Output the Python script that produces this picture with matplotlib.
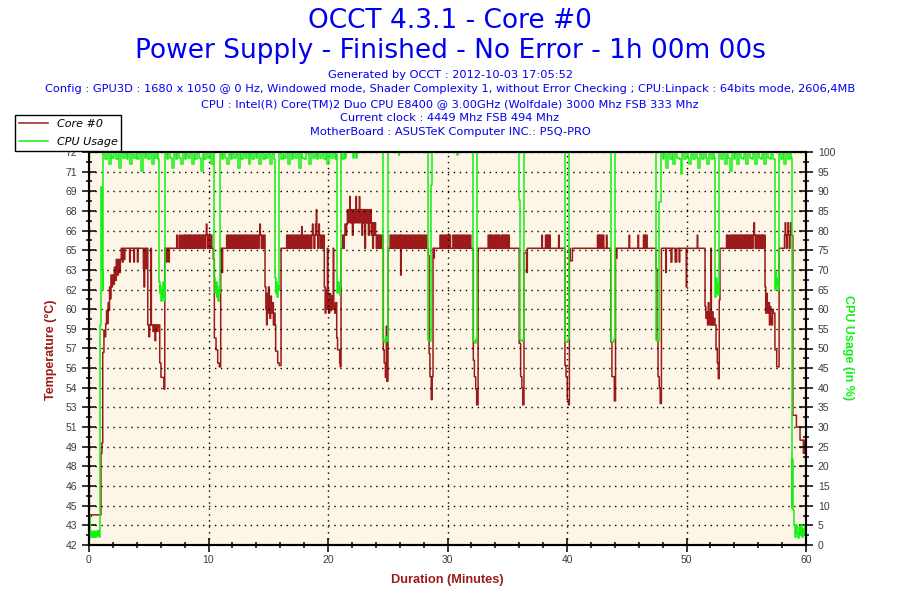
import numpy as np
import matplotlib
matplotlib.use('Agg')
import matplotlib.pyplot as plt
from matplotlib.lines import Line2D
from matplotlib.ticker import MultipleLocator, FixedLocator

title_main = 'OCCT 4.3.1 - Core #0'
title_sub = 'Power Supply - Finished - No Error - 1h 00m 00s'
info_lines = [
    'Generated by OCCT : 2012-10-03 17:05:52',
    'Config : GPU3D : 1680 x 1050 @ 0 Hz, Windowed mode, Shader Complexity 1, without Error Checking ; CPU:Linpack : 64bits mode, 2606,4MB',
    'CPU : Intel(R) Core(TM)2 Duo CPU E8400 @ 3.00GHz (Wolfdale) 3000 Mhz FSB 333 Mhz',
    'Current clock : 4449 Mhz FSB 494 Mhz',
    'MotherBoard : ASUSTeK Computer INC.: P5Q-PRO',
]

temp_tick_labels = ['42', '43', '45', '46', '48', '49', '51', '53', '54', '56', '57',
                    '59', '60', '62', '63', '65', '66', '68', '69', '71', '72']

# (minute, temperature)
temp_readings = [
    (0.00, 44.3), (1.00, 49.0), (1.08, 49.8), (1.15, 56.7), (1.25, 58.4), (1.32, 57.9),
    (1.40, 58.9), (1.47, 59.9), (1.53, 58.9), (1.60, 60.5), (1.66, 59.9), (1.72, 61.7),
    (1.78, 60.8), (1.84, 62.6), (1.90, 61.7), (1.96, 62.6), (2.05, 61.9), (2.12, 63.2),
    (2.20, 62.2), (2.28, 63.8), (2.36, 62.6), (2.45, 63.8), (2.55, 62.8), (2.62, 63.8),
    (2.70, 64.65), (2.78, 63.6), (2.86, 64.65), (2.92, 63.8), (3.00, 64.65), (3.40, 63.6),
    (3.45, 64.65), (3.75, 63.6), (3.80, 64.65), (4.05, 63.6), (4.10, 64.65), (4.55, 63.1),
    (4.60, 61.7), (4.66, 64.65), (4.78, 63.1), (4.85, 64.65), (4.92, 58.8), (5.00, 57.9),
    (5.08, 58.8), (5.18, 64.65), (5.22, 58.8), (5.35, 58.3), (5.42, 58.8), (5.52, 57.6),
    (5.58, 58.8), (5.70, 58.3), (5.78, 58.8), (5.92, 55.9), (6.02, 54.8), (6.26, 53.9),
    (6.34, 64.65), (6.48, 63.6), (6.53, 64.65), (6.68, 63.6), (6.72, 64.65),
    (7.34, 65.65), (7.40, 64.65), (7.55, 65.65), (7.60, 64.65), (7.70, 65.65), (7.76, 64.65),
    (7.88, 65.65), (7.94, 64.65), (8.00, 65.65), (8.08, 64.65), (8.16, 65.65), (8.24, 64.65),
    (8.30, 65.65), (8.36, 64.65), (8.42, 65.65), (8.50, 64.65), (8.56, 65.65), (8.62, 64.65),
    (8.70, 65.65), (8.78, 64.65), (8.84, 65.65), (8.90, 64.65), (8.96, 65.65), (9.04, 64.65),
    (9.10, 65.65), (9.18, 64.65), (9.24, 65.65), (9.30, 64.65), (9.36, 65.65), (9.44, 64.65),
    (9.50, 65.65), (9.56, 64.65), (9.62, 65.65), (9.70, 64.65), (9.76, 65.65), (9.82, 66.5),
    (9.86, 65.65), (9.92, 64.65), (9.98, 65.65), (10.04, 64.65), (10.10, 65.65), (10.16, 64.65),
    (10.22, 65.65), (10.28, 64.65),
    (10.40, 63.8), (10.49, 57.8), (10.63, 56.9), (10.77, 55.9), (10.90, 55.6), (11.02, 64.65),
    (11.14, 62.8), (11.18, 64.65),
    (11.52, 65.65), (11.60, 64.65), (11.68, 65.65), (11.76, 64.65), (11.84, 65.65), (11.92, 64.65),
    (12.00, 65.65), (12.08, 64.65), (12.16, 65.65), (12.24, 64.65), (12.32, 65.65), (12.40, 64.65),
    (12.48, 65.65), (12.56, 64.65), (12.64, 65.65), (12.72, 64.65), (12.80, 65.65), (12.88, 64.65),
    (12.96, 65.65), (13.04, 64.65), (13.12, 65.65), (13.20, 64.65), (13.28, 65.65), (13.36, 64.65),
    (13.44, 65.65), (13.52, 64.65), (13.60, 65.65), (13.68, 64.65), (13.76, 65.65), (13.84, 64.65),
    (13.92, 65.65), (14.00, 64.65), (14.08, 65.65), (14.16, 64.65), (14.24, 65.65), (14.30, 66.5),
    (14.34, 65.65), (14.42, 64.65), (14.50, 65.65), (14.58, 64.65), (14.66, 65.65),
    (14.73, 61.7), (14.80, 60.0), (14.86, 58.8), (14.90, 61.2), (14.96, 59.7), (15.02, 61.7),
    (15.08, 60.2), (15.14, 59.3), (15.20, 61.0), (15.26, 59.7), (15.34, 60.5), (15.43, 58.8),
    (15.50, 59.7), (15.57, 58.8), (15.62, 56.8), (15.79, 55.9), (15.92, 55.7), (16.07, 64.65),
    (16.54, 65.65), (16.62, 64.65), (16.70, 65.65), (16.78, 64.65), (16.86, 65.65), (16.94, 64.65),
    (17.02, 65.65), (17.10, 64.65), (17.18, 65.65), (17.26, 64.65), (17.34, 65.65), (17.42, 64.65),
    (17.50, 65.65), (17.58, 64.65), (17.66, 65.65), (17.74, 64.65), (17.80, 66.3), (17.84, 65.65),
    (17.92, 64.65), (18.00, 65.65), (18.08, 64.65), (18.16, 65.65), (18.24, 64.65), (18.32, 65.65),
    (18.40, 64.65), (18.48, 65.65), (18.56, 64.65), (18.64, 65.65), (18.70, 66.5), (18.74, 65.65),
    (18.82, 64.65), (18.90, 65.65), (18.96, 66.5), (19.02, 67.6), (19.06, 65.65), (19.14, 64.65),
    (19.22, 66.5), (19.28, 65.65), (19.36, 64.65), (19.44, 65.65), (19.52, 64.65), (19.60, 65.65),
    (19.69, 61.7), (19.76, 59.7), (19.82, 61.5), (19.88, 60.0), (19.95, 64.65), (19.99, 60.5),
    (20.06, 59.7), (20.14, 61.2), (20.22, 59.9), (20.30, 61.0), (20.40, 60.0), (20.44, 64.65),
    (20.48, 60.2), (20.56, 59.7), (20.62, 60.5), (20.73, 57.8), (20.80, 56.9), (20.98, 55.9),
    (21.02, 55.6), (21.09, 64.65), (21.22, 65.65), (21.28, 64.65), (21.36, 65.65), (21.42, 66.5),
    (21.50, 65.65), (21.56, 66.5),
    (21.62, 67.6), (21.70, 66.6), (21.76, 67.6), (21.82, 68.6), (21.86, 66.6), (21.92, 67.6),
    (21.98, 66.6), (22.04, 65.65), (22.10, 67.6), (22.16, 66.6), (22.22, 67.6), (22.28, 66.6),
    (22.34, 68.6), (22.38, 67.6), (22.44, 66.6), (22.50, 67.6), (22.56, 66.6), (22.62, 68.6),
    (22.66, 67.6), (22.72, 66.6), (22.78, 67.6), (22.84, 65.65), (22.90, 67.6), (22.96, 66.6),
    (23.02, 67.6), (23.08, 64.65), (23.14, 67.6), (23.20, 66.6), (23.26, 67.6), (23.32, 66.6),
    (23.38, 65.65), (23.44, 67.6), (23.50, 66.6), (23.56, 67.6), (23.62, 65.65), (23.68, 66.6),
    (23.74, 64.65), (23.80, 66.6), (23.86, 65.65), (23.92, 66.6), (23.98, 65.65), (24.04, 64.65),
    (24.10, 65.65), (24.16, 64.65), (24.22, 65.65), (24.30, 64.65), (24.38, 65.65), (24.46, 64.65),
    (24.54, 65.65), (24.60, 64.65),
    (24.63, 56.9), (24.70, 55.9), (24.80, 54.8), (24.88, 58.7), (24.92, 54.5), (25.02, 64.65),
    (25.20, 65.65), (25.28, 64.65), (25.36, 65.65), (25.44, 64.65), (25.52, 65.65), (25.60, 64.65),
    (25.68, 65.65), (25.76, 64.65), (25.84, 65.65), (25.92, 64.65), (26.00, 65.65), (26.08, 62.6),
    (26.12, 65.65), (26.20, 64.65), (26.28, 65.65), (26.36, 64.65), (26.44, 65.65), (26.52, 64.65),
    (26.60, 65.65), (26.68, 64.65), (26.76, 65.65), (26.84, 64.65), (26.92, 65.65), (27.00, 64.65),
    (27.08, 65.65), (27.16, 64.65), (27.24, 65.65), (27.32, 64.65), (27.40, 65.65), (27.48, 64.65),
    (27.56, 65.65), (27.64, 64.65), (27.72, 65.65), (27.80, 64.65), (27.88, 65.65), (27.96, 64.65),
    (28.04, 65.65), (28.12, 64.65), (28.20, 65.65), (28.28, 64.65),
    (28.38, 64.1), (28.46, 56.6), (28.53, 54.85), (28.64, 53.1), (28.72, 54.85), (28.79, 64.65),
    (28.85, 63.9), (28.90, 64.65),
    (29.37, 65.65), (29.45, 64.65), (29.53, 65.65), (29.61, 64.65), (29.69, 65.65), (29.77, 64.65),
    (29.85, 65.65), (29.93, 64.65), (30.01, 65.65), (30.09, 64.65), (30.17, 65.65), (30.25, 64.65),
    (30.45, 65.65), (30.53, 64.65), (30.61, 65.65), (30.69, 64.65), (30.77, 65.65), (30.85, 64.65),
    (30.93, 65.65), (31.01, 64.65), (31.09, 65.65), (31.17, 64.65), (31.25, 65.65), (31.33, 64.65),
    (31.41, 65.65), (31.49, 64.65), (31.57, 65.65), (31.65, 64.65), (31.73, 65.65), (31.81, 64.65),
    (31.89, 65.65), (31.95, 64.65),
    (32.16, 56.1), (32.25, 54.85), (32.36, 53.9), (32.44, 52.7), (32.56, 64.65),
    (33.40, 65.65), (33.46, 64.65), (33.52, 65.65), (33.58, 64.65), (33.64, 65.65), (33.70, 64.65),
    (33.76, 65.65), (33.82, 64.65), (33.95, 65.65), (34.01, 64.65), (34.07, 65.65), (34.13, 64.65),
    (34.19, 65.65), (34.25, 64.65), (34.31, 65.65), (34.37, 64.65), (34.50, 65.65), (34.56, 64.65),
    (34.62, 65.65), (34.68, 64.65), (34.74, 65.65), (34.80, 64.65), (34.86, 65.65), (34.92, 64.65),
    (34.98, 65.65), (35.04, 64.65), (35.10, 65.65), (35.16, 64.65),
    (36.00, 57.4), (36.12, 54.85), (36.22, 54.0), (36.30, 52.7), (36.40, 64.3), (36.62, 62.8),
    (36.68, 64.65), (37.90, 65.65), (37.94, 64.65), (38.20, 65.65), (38.26, 64.65), (38.32, 65.65),
    (38.36, 64.65), (38.44, 65.65), (38.50, 64.65), (38.56, 65.65), (38.60, 64.65), (39.30, 65.65),
    (39.34, 64.65),
    (39.83, 55.7), (39.92, 54.85), (40.02, 53.1), (40.12, 52.7), (40.20, 64.65), (40.26, 63.7),
    (40.45, 64.65), (42.55, 65.65), (42.60, 64.65), (42.66, 65.65), (42.72, 64.65), (42.78, 65.65),
    (42.84, 64.65), (42.90, 65.65), (42.96, 64.65), (43.02, 65.65), (43.08, 64.65), (43.30, 65.65),
    (43.34, 64.65),
    (43.66, 57.5), (43.76, 54.85), (43.96, 53.0), (44.06, 64.65), (44.12, 63.9), (44.18, 64.65),
    (45.20, 65.65), (45.24, 64.65), (45.95, 65.65), (45.99, 64.65), (46.40, 65.65), (46.46, 64.65),
    (46.52, 65.65), (46.58, 64.65), (46.64, 65.65), (46.70, 64.65),
    (47.45, 63.1), (47.52, 57.6), (47.62, 54.85), (47.72, 54.0), (47.80, 52.8), (47.90, 64.65),
    (48.27, 62.8), (48.31, 64.65), (48.70, 63.6), (48.78, 64.65), (49.05, 63.6), (49.18, 64.65),
    (49.38, 63.6), (49.44, 64.65), (49.98, 61.7), (50.02, 64.65), (50.90, 65.65), (50.94, 64.65),
    (51.55, 60.2), (51.62, 59.3), (51.70, 59.8), (51.76, 58.8), (51.82, 60.5), (51.88, 59.3),
    (51.94, 58.8), (52.00, 59.8), (52.04, 64.65), (52.08, 58.8), (52.16, 59.8), (52.22, 58.8),
    (52.30, 59.3), (52.38, 58.8), (52.47, 56.9), (52.58, 55.9), (52.66, 54.7), (52.74, 60.7),
    (52.80, 64.65),
    (53.35, 65.65), (53.41, 64.65), (53.47, 65.65), (53.53, 64.65), (53.65, 65.65), (53.71, 64.65),
    (53.77, 65.65), (53.83, 64.65), (53.89, 65.65), (53.95, 64.65), (54.01, 65.65), (54.07, 64.65),
    (54.13, 65.65), (54.19, 64.65), (54.25, 65.65), (54.31, 64.65), (54.37, 65.65), (54.43, 64.65),
    (54.49, 65.65), (54.55, 64.65), (54.61, 65.65), (54.67, 64.65), (54.73, 65.65), (54.79, 64.65),
    (54.85, 65.65), (54.91, 64.65), (54.97, 65.65), (55.03, 64.65), (55.09, 65.65), (55.15, 64.65),
    (55.21, 65.65), (55.27, 64.65), (55.33, 65.65), (55.39, 64.65), (55.45, 65.65), (55.51, 64.65),
    (55.57, 65.65), (55.65, 66.6), (55.69, 65.65), (55.75, 64.65), (55.81, 65.65), (55.87, 64.65),
    (55.93, 65.65), (55.99, 64.65), (56.05, 65.65), (56.11, 64.65), (56.17, 65.65), (56.23, 64.65),
    (56.29, 65.65), (56.35, 64.65), (56.41, 65.65), (56.47, 64.65), (56.53, 65.65),
    (56.57, 61.7), (56.63, 59.7), (56.70, 61.2), (56.76, 60.0), (56.82, 59.7), (56.88, 60.5),
    (56.94, 58.8), (57.00, 60.2), (57.06, 59.3), (57.12, 58.8), (57.20, 60.0), (57.26, 59.7),
    (57.40, 56.9), (57.55, 55.6), (57.75, 64.65), (58.20, 65.65), (58.26, 66.6), (58.30, 65.65),
    (58.36, 64.65), (58.42, 65.65), (58.50, 66.6), (58.54, 65.65), (58.60, 64.65), (58.66, 65.65),
    (58.72, 66.6), (58.76, 65.65),
    (58.90, 51.9), (59.20, 51.0), (59.50, 50.0), (59.78, 49.0), (59.84, 50.0), (59.90, 49.0),
    (59.95, 49.5), (60.00, 49.5),
]

# (minute, CPU usage %)
cpu_readings = [
    (0.00, 3.0), (0.05, 2.0), (0.08, 7.3), (0.12, 2.0), (0.18, 3.5), (0.24, 2.0), (0.30, 3.0),
    (0.36, 2.0), (0.42, 3.5), (0.48, 2.0), (0.54, 3.0), (0.60, 2.0), (0.66, 3.5), (0.72, 2.5),
    (0.78, 3.5), (0.84, 2.0), (0.92, 56), (0.98, 68), (1.04, 91), (1.08, 70), (1.14, 65),
    (1.20, 99.4), (1.35, 98.3), (1.50, 100), (1.65, 97), (1.80, 99.4), (1.95, 98.6), (2.10, 100),
    (2.25, 98.3), (2.40, 99.4), (2.55, 96), (2.70, 100), (2.85, 98.6), (3.00, 99.4), (3.15, 98.3),
    (3.30, 100), (3.45, 97), (3.60, 99.4), (3.75, 98.6), (3.90, 100), (4.05, 98.3), (4.20, 99.4),
    (4.35, 95.2), (4.50, 100), (4.65, 98.6), (4.80, 99.4), (4.95, 98.3), (5.10, 100), (5.25, 97),
    (5.40, 99.4), (5.55, 98.6), (5.70, 100), (5.80, 98.3),
    (5.86, 67), (5.92, 64), (5.98, 66), (6.04, 62), (6.10, 65), (6.16, 63), (6.22, 67),
    (6.28, 62), (6.34, 99.4),
    (6.50, 98.3), (6.65, 100), (6.80, 98.6), (6.95, 96), (7.10, 99.4), (7.25, 98.3), (7.40, 100),
    (7.55, 98.6), (7.70, 97), (7.85, 100), (8.00, 98.3), (8.15, 99.4), (8.30, 98.6), (8.45, 100),
    (8.60, 97), (8.75, 99.4), (8.90, 98.3), (9.05, 100), (9.20, 98.6), (9.35, 95.2), (9.50, 99.4),
    (9.65, 98.3), (9.80, 100), (9.95, 98.6), (10.10, 99.4), (10.25, 97), (10.40, 100),
    (10.49, 68), (10.56, 64), (10.62, 67), (10.68, 63), (10.74, 66), (10.80, 62), (10.86, 65),
    (10.92, 64), (10.97, 99.4),
    (11.10, 98.3), (11.25, 100), (11.40, 98.6), (11.55, 97), (11.70, 99.4), (11.85, 98.3),
    (12.00, 100), (12.15, 98.6), (12.30, 99.4), (12.45, 96), (12.60, 100), (12.75, 98.3),
    (12.90, 99.4), (13.05, 98.6), (13.20, 100), (13.35, 97), (13.50, 99.4), (13.65, 98.3),
    (13.80, 100), (13.95, 98.6), (14.10, 99.4), (14.25, 97), (14.40, 100), (14.55, 98.3),
    (14.70, 99.4), (14.85, 98.6), (15.00, 100), (15.15, 97), (15.30, 99.4), (15.45, 98.3),
    (15.57, 68), (15.63, 64), (15.69, 67), (15.75, 63), (15.81, 66), (15.87, 65), (15.92, 100),
    (16.05, 98.3), (16.20, 99.4), (16.35, 98.6), (16.50, 100), (16.65, 97), (16.80, 99.4),
    (16.95, 98.3), (17.10, 100), (17.25, 98.6), (17.40, 99.4), (17.55, 96), (17.70, 100),
    (17.85, 98.6), (18.00, 98.3), (18.15, 100), (18.30, 99.4), (18.45, 97), (18.60, 100),
    (18.75, 98.6), (18.90, 99.4), (19.05, 98.3), (19.20, 100), (19.35, 98.6), (19.50, 99.4),
    (19.65, 98.3), (19.80, 100), (19.95, 97), (20.10, 99.4), (20.25, 98.6), (20.40, 100),
    (20.55, 98.3), (20.65, 99.4),
    (20.73, 68), (20.79, 64), (20.85, 67), (20.91, 65), (20.97, 63.5), (21.03, 66), (21.10, 99.4),
    (21.20, 98.3), (21.30, 100), (21.40, 98.6), (21.50, 100), (22.10, 98.6), (22.15, 100),
    (22.35, 98.6), (22.40, 100),
    (24.63, 52.5), (24.72, 51.6), (24.82, 52.8), (24.92, 52.0), (24.98, 100), (25.90, 99.3),
    (25.95, 100),
    (28.38, 52.2), (28.50, 51.8), (28.62, 52.5), (28.66, 91.6), (28.74, 100), (30.80, 99.3),
    (30.84, 100),
    (32.15, 52.0), (32.30, 51.5), (32.42, 52.5), (32.50, 100),
    (35.98, 87.8), (36.04, 52.2), (36.18, 51.8), (36.30, 52.5), (36.40, 100),
    (39.83, 52.0), (39.95, 51.6), (40.08, 52.5), (40.18, 100),
    (43.66, 52.0), (43.80, 51.7), (43.94, 52.4), (44.05, 100),
    (47.45, 52.2), (47.55, 51.8), (47.68, 87.4), (47.88, 100),
    (48.00, 98.3), (48.15, 99.4), (48.30, 96), (48.45, 100), (48.60, 98.3), (48.75, 99.4),
    (48.90, 97), (49.05, 100), (49.20, 98.6), (49.35, 98.3), (49.50, 94.5), (49.65, 99.4),
    (49.80, 98.3), (49.95, 100), (50.10, 98.6), (50.25, 97), (50.40, 99.4), (50.55, 98.3),
    (50.70, 100), (50.85, 98.6), (51.00, 96), (51.15, 99.4), (51.30, 98.3), (51.45, 100),
    (51.60, 98.6), (51.75, 97), (51.90, 99.4), (52.05, 98.3), (52.20, 100), (52.30, 98.6),
    (52.38, 63.2), (52.45, 68), (52.52, 64), (52.58, 66.5), (52.64, 63.5), (52.70, 67), (52.75, 99.4),
    (52.90, 98.3), (53.05, 100), (53.20, 97), (53.35, 99.4), (53.50, 98.6), (53.65, 95.2),
    (53.80, 100), (53.95, 98.3), (54.10, 99.4), (54.25, 97), (54.40, 100), (54.55, 98.6),
    (54.70, 98.3), (54.85, 99.4), (55.00, 97), (55.15, 100), (55.30, 98.6), (55.45, 98.3),
    (55.60, 99.4), (55.75, 97), (55.90, 100), (56.05, 98.6), (56.20, 98.3), (56.35, 99.4),
    (56.50, 97), (56.65, 100), (56.80, 98.6), (56.95, 98.3), (57.10, 99.4), (57.25, 98.3),
    (57.40, 65), (57.46, 69.5), (57.52, 66), (57.58, 68), (57.64, 65), (57.70, 69), (57.76, 99.4),
    (57.90, 98.3), (58.05, 100), (58.20, 97), (58.35, 99.4), (58.50, 98.3), (58.65, 100),
    (58.75, 98.6),
    (58.80, 9.3), (58.86, 22), (58.92, 9), (58.98, 5), (59.05, 4), (59.12, 2), (59.20, 5),
    (59.28, 3), (59.36, 1.8), (59.44, 4.5), (59.52, 2.5), (59.60, 5), (59.68, 2), (59.76, 4),
    (59.84, 2.5), (59.92, 5), (60.00, 3),
]

RED = '#9C1A1A'
GREEN = '#14F014'
BLUE = '#0000F0'
TICK_GREY = '#3C3C3C'
GRID_STYLE = (0, (1, 3.3))

temp_t, temp_v = zip(*temp_readings)
cpu_t, cpu_v = zip(*cpu_readings)

fig = plt.figure(figsize=(9, 6), dpi=100)
fig.patch.set_facecolor('white')

ax = fig.add_axes([89 / 900, 55 / 600, 717 / 900, 393 / 600])
ax.set_facecolor('#FDF6E6')
ax.plot(temp_t, temp_v, drawstyle='steps-post', color=RED, lw=1.1)
ax.set_xlim(0, 60)
ax.set_ylim(42, 72)

ax2 = ax.twinx()
ax2.plot(cpu_t, cpu_v, drawstyle='steps-post', color=GREEN, lw=1.1)
ax2.set_ylim(0, 100)

# ticks
ax.set_yticks(np.linspace(42, 72, 21))
ax.set_yticklabels(temp_tick_labels)
ax.yaxis.set_minor_locator(FixedLocator(np.linspace(42.75, 71.25, 20)))
ax.xaxis.set_major_locator(MultipleLocator(10))
ax.xaxis.set_minor_locator(MultipleLocator(2))
ax2.set_yticks(range(0, 101, 5))
ax2.yaxis.set_minor_locator(MultipleLocator(2.5))

for a in (ax, ax2):
    a.tick_params(which='major', direction='inout', length=10, width=1.1,
                  labelsize=7.5, labelcolor=TICK_GREY, pad=3.5)
    a.tick_params(which='minor', direction='inout', length=5, width=1.1)
    for lbl in a.get_xticklabels() + a.get_yticklabels():
        lbl.set_family('Liberation Sans')
    for sp in a.spines.values():
        sp.set_linewidth(1.5)
        sp.set_color('black')
ax.tick_params(axis='x', which='major', pad=2.5)

ax.grid(True, which='major', color='black', linestyle=GRID_STYLE, linewidth=1.0)
ax.set_axisbelow(False)

# texts
fig.text(0.5, 1 - 21 / 600, title_main, ha='center', va='center', fontsize=19, color=BLUE)
fig.text(0.5, 1 - 51 / 600, title_sub, ha='center', va='center', fontsize=19, color=BLUE)
for i, line in enumerate(info_lines):
    fig.text(0.5, 1 - (75 + i * 14.3) / 600, line, ha='center', va='center',
             fontsize=8.2, color=BLUE)

fig.text(51 / 900, 1 - 350 / 600, 'Temperature (°C)', rotation=90, ha='center', va='center',
         color=RED, fontsize=9, fontweight='bold', family='Liberation Sans')
fig.text(848 / 900, 1 - 348 / 600, 'CPU Usage (in %)', rotation=270, ha='center', va='center',
         color=GREEN, fontsize=9, fontweight='bold', family='Liberation Sans')
fig.text(447 / 900, 1 - 580 / 600, 'Duration (Minutes)', ha='center', va='center',
         color=RED, fontsize=9.2, fontweight='bold', family='Liberation Sans')

handles = [Line2D([], [], color=RED, lw=1.1), Line2D([], [], color=GREEN, lw=1.1)]
leg = fig.legend(handles, ['Core #0', 'CPU Usage'], loc='upper left',
                 bbox_to_anchor=(15 / 900, 1 - 115 / 600), frameon=True, fancybox=False,
                 edgecolor='black', framealpha=1, borderaxespad=0, borderpad=0.35,
                 handlelength=2.6, handletextpad=0.8, labelspacing=0.75,
                 prop={'family': 'DejaVu Sans', 'style': 'italic', 'size': 8})
leg.get_frame().set_linewidth(1.0)

fig.savefig('out.png', dpi=100)
